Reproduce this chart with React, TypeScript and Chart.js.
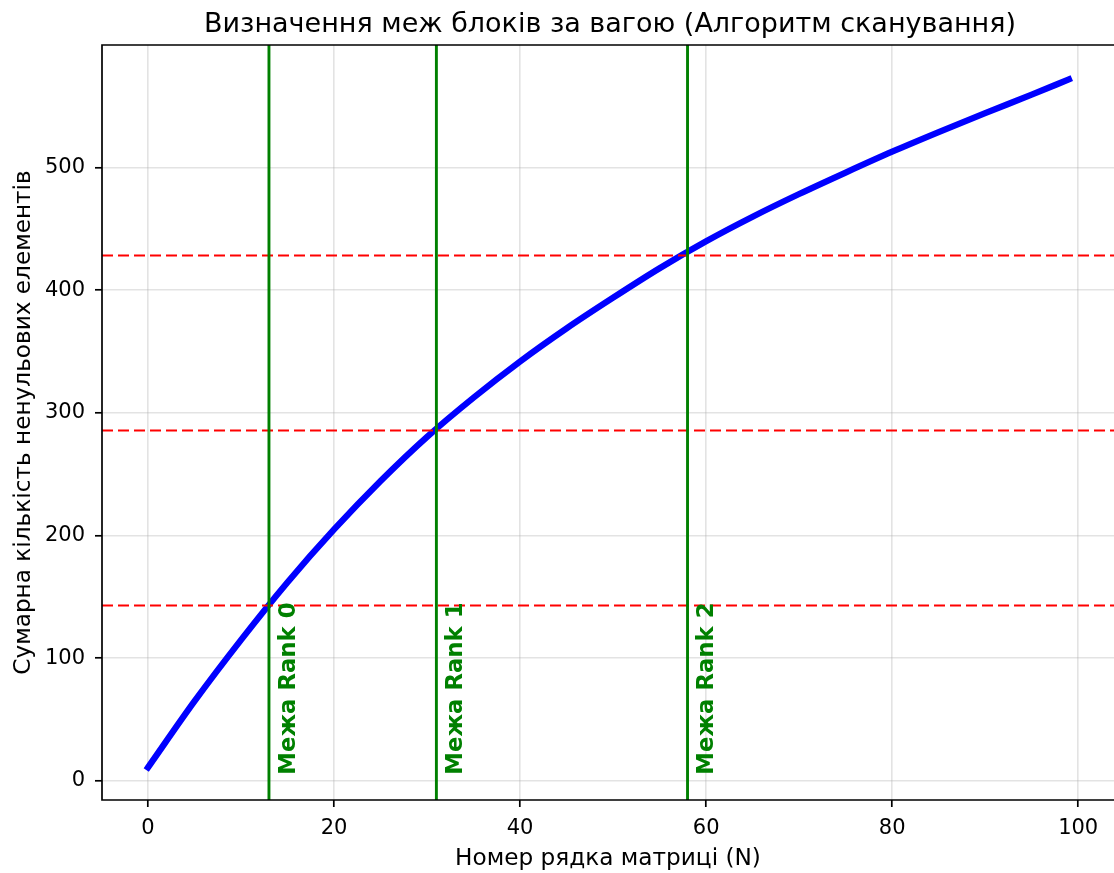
import React, { useEffect, useRef } from "react";
import { Chart, registerables } from "chart.js";

Chart.register(...registerables);

const rowIndex = [0, 5, 10, 15, 20, 25, 30, 35, 40, 45, 50, 55, 60, 65, 70, 75, 80, 85, 90, 95, 99];
const cumulativeNnz = [11, 65, 115, 162, 205, 244.5, 280.5, 312.5, 342, 369, 394, 418, 440, 460, 478.5, 496, 513, 529, 544.5, 559.5, 572];
const thresholds = [143, 286, 429];
const boundaries = [13, 31, 58];
const boundaryLabels = ["Межа Rank 0", "Межа Rank 1", "Межа Rank 2"];
const xTicks = [0, 20, 40, 60, 80, 100];
const yTicks = [0, 100, 200, 300, 400, 500];
const titleText = "Визначення меж блоків за вагою (Алгоритм сканування)";
const xLabel = "Номер рядка матриці (N)";
const yLabel = "Сумарна кількість ненульових елементів";

const FONT = '"DejaVu Sans", sans-serif';

const overlayPlugin = {
  id: "overlay",
  afterDatasetsDraw(chart: any) {
    const { ctx, chartArea, scales } = chart;
    const { left, right, top, bottom } = chartArea;
    const x = scales.x;
    const y = scales.y;
    ctx.save();
    ctx.beginPath();
    ctx.rect(left, top, right - left + 10, bottom - top);
    ctx.clip();
    // threshold lines
    ctx.strokeStyle = "#ff0000";
    ctx.lineWidth = 2.1;
    ctx.setLineDash([11, 5]);
    thresholds.forEach((t) => {
      const py = Math.round(y.getPixelForValue(t)) + 0.5;
      ctx.beginPath();
      ctx.moveTo(left, py);
      ctx.lineTo(right, py);
      ctx.stroke();
    });
    ctx.setLineDash([]);
    // boundary lines
    ctx.strokeStyle = "#008000";
    ctx.lineWidth = 2.9;
    boundaries.forEach((b) => {
      const px = x.getPixelForValue(b);
      ctx.beginPath();
      ctx.moveTo(px, top);
      ctx.lineTo(px, bottom);
      ctx.stroke();
    });
    // labels
    const fs = 22.8;
    ctx.font = `bold ${fs}px ${FONT}`;
    ctx.fillStyle = "#008000";
    ctx.textAlign = "left";
    ctx.textBaseline = "alphabetic";
    boundaries.forEach((b, i) => {
      const px = x.getPixelForValue(b + 1) + 0.73 * fs;
      const py = y.getPixelForValue(5);
      ctx.save();
      ctx.translate(px, py);
      ctx.rotate(-Math.PI / 2);
      ctx.fillText(boundaryLabels[i], 0, 0);
      ctx.restore();
    });
    ctx.restore();

    // spines
    ctx.save();
    ctx.strokeStyle = "#000";
    ctx.lineWidth = 1.7;
    ctx.beginPath();
    ctx.moveTo(left, top);
    ctx.lineTo(left, bottom);
    ctx.moveTo(left - 0.85, bottom);
    ctx.lineTo(right + 5, bottom);
    ctx.moveTo(left - 0.85, top);
    ctx.lineTo(right + 5, top);
    ctx.stroke();
    ctx.restore();
  },
  afterDraw(chart: any) {
    const { ctx, chartArea } = chart;
    ctx.save();
    ctx.font = `27px ${FONT}`;
    ctx.fillStyle = "#000";
    ctx.textAlign = "center";
    ctx.textBaseline = "alphabetic";
    ctx.fillText(titleText, (chartArea.left + chartArea.right) / 2 + 2, 32);
    ctx.restore();
  },
};

export default function App() {
  const canvasRef = useRef<HTMLCanvasElement | null>(null);

  useEffect(() => {
    document.body.style.margin = "0";
    const canvas = canvasRef.current;
    if (!canvas) return;
    const chart = new Chart(canvas, {
      type: "line",
      data: {
        datasets: [
          {
            data: rowIndex.map((n, i) => ({ x: n, y: cumulativeNnz[i] })),
            borderColor: "#0000ff",
            borderWidth: 6.3,
            pointRadius: 0,
            pointHoverRadius: 0,
            cubicInterpolationMode: "monotone",
            borderCapStyle: "square",
            fill: false,
          },
        ],
      },
      options: {
        animation: false,
        responsive: false,
        devicePixelRatio: 1,
        events: [],
        layout: { padding: { top: 45, left: 0, right: 0, bottom: 0 } },
        plugins: {
          legend: { display: false },
          tooltip: { enabled: false },
          title: { display: false },
        },
        scales: {
          x: {
            type: "linear",
            min: -4.95,
            max: 103.85,
            afterFit: (s: any) => {
              s.height = 73;
            },
            afterBuildTicks: (s: any) => {
              s.ticks = xTicks.map((v) => ({ value: v }));
            },
            ticks: {
              font: { family: FONT, size: 21 },
              color: "#000",
              padding: 9,
              maxRotation: 0,
              callback: (v: any) => String(v),
            },
            grid: {
              color: "rgba(176,176,176,0.35)",
              lineWidth: 1.6,
              tickColor: "#000",
              tickLength: 7,
              tickWidth: 1.7,
            },
            border: { display: false },
            title: {
              display: true,
              text: xLabel,
              color: "#000",
              font: { family: FONT, size: 23.2 },
              padding: { top: 0, bottom: 0 },
            },
          },
          y: {
            type: "linear",
            min: -15.6,
            max: 600,
            afterFit: (s: any) => {
              s.width = 102;
            },
            afterBuildTicks: (s: any) => {
              s.ticks = yTicks.map((v) => ({ value: v }));
            },
            ticks: {
              font: { family: FONT, size: 21 },
              color: "#000",
              padding: 10,
              callback: (v: any) => String(v),
            },
            grid: {
              color: "rgba(176,176,176,0.35)",
              lineWidth: 1.6,
              tickColor: "#000",
              tickLength: 7,
              tickWidth: 1.7,
            },
            border: { display: false },
            title: {
              display: true,
              text: yLabel,
              color: "#000",
              font: { family: FONT, size: 23.2 },
              padding: { top: 10, bottom: 0 },
            },
          },
        },
      },
      plugins: [overlayPlugin],
    });
    return () => chart.destroy();
  }, []);

  return (
    <div style={{ position: "absolute", left: 0, top: 0, width: 1114, height: 873 }}>
      <canvas ref={canvasRef} width={1114} height={873} style={{ width: 1114, height: 873, display: "block" }} />
    </div>
  );
}
